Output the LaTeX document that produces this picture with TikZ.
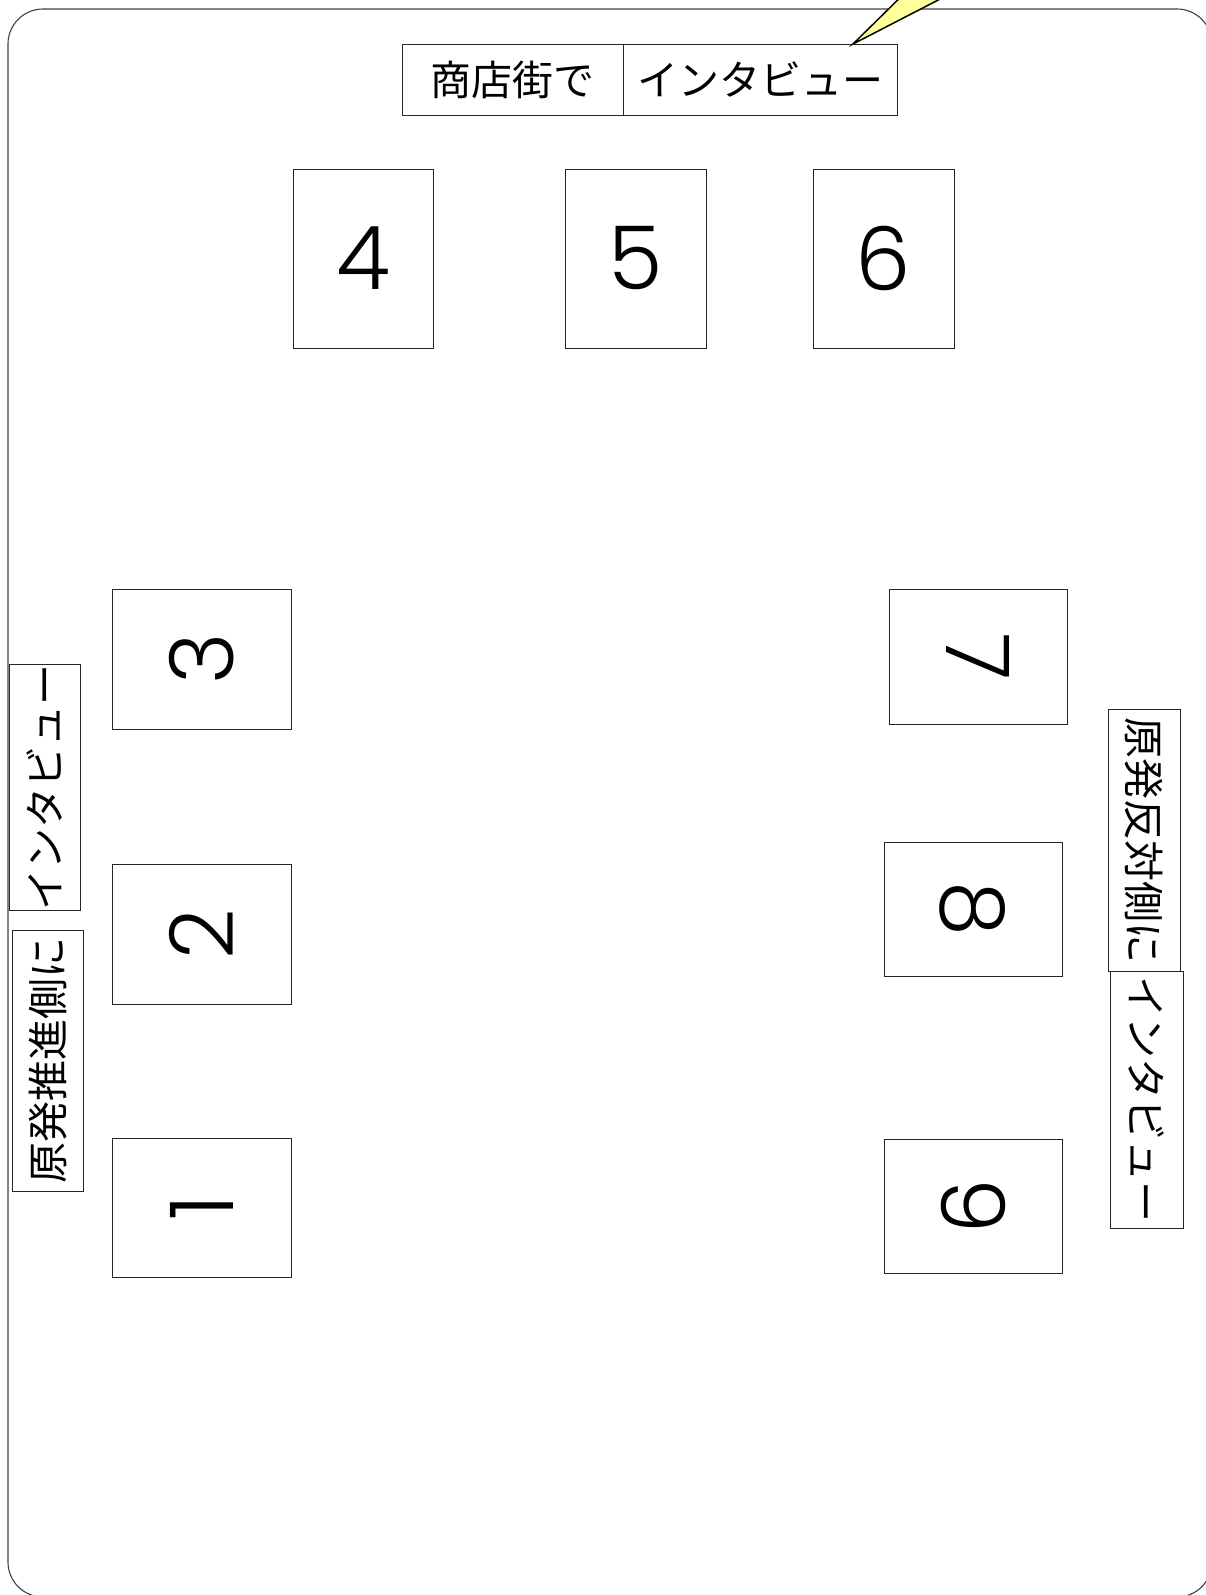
\documentclass[tikz,border=0pt]{standalone}
\usepackage{fontspec}
\newfontfamily\jpfont{Noto Sans CJK JP}
\IfFontExistsTF{Poppins Light}{\newfontfamily\digitfont{Poppins Light}}{\newfontfamily\digitfont{Poppins}}
\definecolor{callout}{HTML}{FFFF99}
\begin{document}
\begin{tikzpicture}[x=1pt,y=-1pt,
  box/.style={draw=black!85, line width=0.9pt, fill=white, inner sep=0pt},
  numbox/.style={box, font=\digitfont\fontsize{88}{90}\selectfont},
  lblbox/.style={box, font=\jpfont\fontsize{41}{45}\selectfont},
  frame/.style={draw=black!75, line width=1.1pt, rounded corners=35pt},
  pointer/.style={fill=callout, draw=black, line width=1.5pt, line join=miter}
]
\useasboundingbox (0,0) rectangle (1205,1595);
\draw[frame] (8,9) rectangle (1212,1597);

% top label
\node[lblbox, minimum width=221pt, minimum height=71pt] (shop) at (512.5,79.5) {商店街で};
\node[lblbox, minimum width=274pt, minimum height=71pt] (intv) at (760,79.5) {インタビュー};

% top number boxes
\node[numbox, minimum width=140pt, minimum height=179pt] (n4) at (363,258.5) {4};
\node[numbox, minimum width=141pt, minimum height=179pt] (n5) at (635.5,258.5) {5};
\node[numbox, minimum width=141pt, minimum height=179pt] (n6) at (883.5,258.5) {6};

% left number boxes
\node[numbox, rotate=90, minimum width=140pt, minimum height=179pt] (n3) at (201.5,659) {3};
\node[numbox, rotate=90, minimum width=140pt, minimum height=179pt] (n2) at (201.5,934) {2};
\node[numbox, rotate=90, minimum width=139pt, minimum height=179pt] (n1) at (201.5,1207.5) {1};

% right number boxes
\node[numbox, rotate=-90, minimum width=135pt, minimum height=178pt] (n7) at (978,656.5) {7};
\node[numbox, rotate=-90, minimum width=134pt, minimum height=178pt] (n8) at (973,909) {8};
\node[numbox, rotate=-90, minimum width=134pt, minimum height=178pt] (n9) at (973,1206) {9};

% left labels
\node[lblbox, rotate=90, minimum width=245pt, minimum height=71pt] (lint) at (44.5,787.5) {インタビュー};
\node[lblbox, rotate=90, minimum width=261pt, minimum height=71pt] (lside) at (47.5,1060.5) {原発推進側に};

% right labels
\node[lblbox, rotate=-90, minimum width=262pt, minimum height=72pt] (rside) at (1144,840) {原発反対側に};
\node[lblbox, rotate=-90, minimum width=257pt, minimum height=73pt] (rint) at (1146.5,1099.5) {インタビュー};

% callout pointer
\coordinate (wtip) at (853,44);
\coordinate (wa) at (918,-20);
\coordinate (wb) at (977,-20);
\filldraw[pointer] (wtip) -- (wa) -- (wb) -- cycle;
\end{tikzpicture}
\end{document}
